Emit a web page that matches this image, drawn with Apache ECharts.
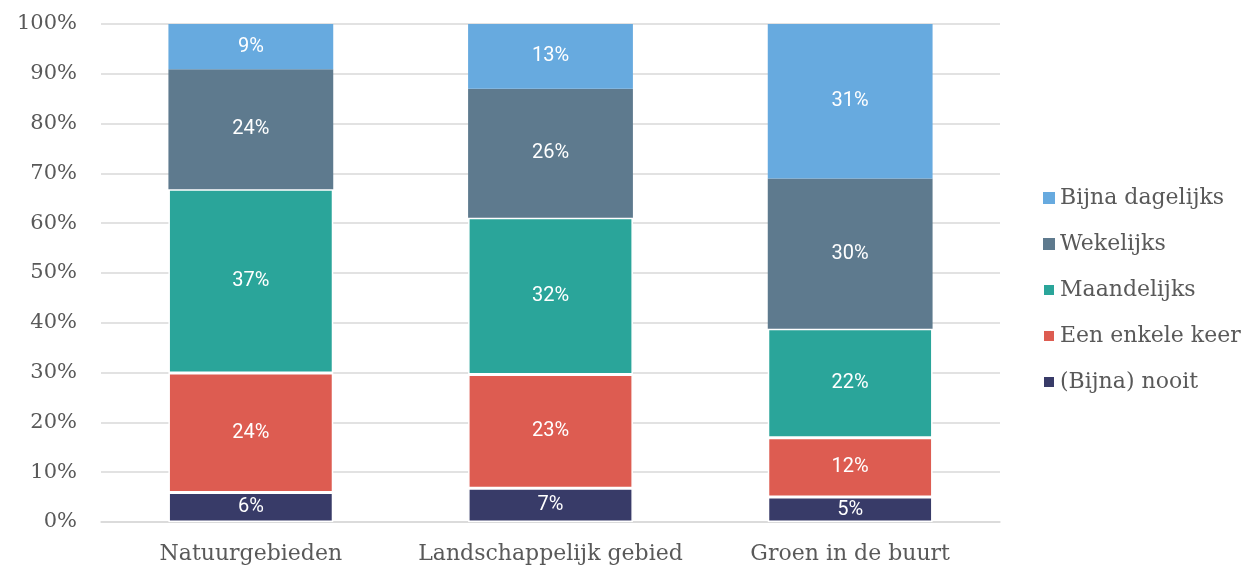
<!DOCTYPE html>
<html>
<head>
<meta charset="utf-8">
<script src="https://cdn.jsdelivr.net/npm/echarts@6/dist/echarts.min.js"></script>
<style>html,body{margin:0;padding:0;background:#fff}#c{width:1248px;height:566px}</style>
</head>
<body>
<div id="c"></div>
<script>
const categories = ['Natuurgebieden', 'Landschappelijk gebied', 'Groen in de buurt'];
const seriesNames = ['(Bijna) nooit', 'Een enkele keer', 'Maandelijks', 'Wekelijks', 'Bijna dagelijks'];
const nooit = [5.9, 6.8, 5.0];
const enkeleKeer = [24.0, 22.8, 11.9];
const maandelijks = [36.9, 31.5, 21.9];
const wekelijks = [24.1, 25.9, 30.2];
const dagelijks = [9.1, 13.0, 31.0];
const yTicks = [0, 10, 20, 30, 40, 50, 60, 70, 80, 90, 100];
const legendOrder = ['Bijna dagelijks', 'Wekelijks', 'Maandelijks', 'Een enkele keer', '(Bijna) nooit'];

const colors = ['#383b68', '#dd5c51', '#2aa59a', '#5e7a8e', '#67aadf'];
const values = [nooit, enkeleKeer, maandelijks, wekelijks, dagelijks];
const serif = 'DejaVu Serif';

const chart = echarts.init(document.getElementById('c'), null, {renderer: 'canvas'});
chart.setOption({
  animation: false,
  color: colors,
  grid: {left: 101, right: 248, top: 24, bottom: 44},
  legend: {
    orient: 'vertical',
    left: 1037,
    top: 181,
    itemWidth: 12,
    itemHeight: 12,
    itemGap: 22,
    icon: 'rect',
    data: legendOrder,
    textStyle: {fontFamily: serif, fontSize: 22, lineHeight: 24, color: '#595959', padding: [0, 0, 0, 0]}
  },
  xAxis: {
    type: 'category',
    data: categories,
    axisTick: {show: false},
    axisLine: {lineStyle: {color: '#d9d9d9', width: 1.5}},
    axisLabel: {fontFamily: serif, fontSize: 22, color: '#595959', margin: 21, interval: 0, hideOverlap: false}
  },
  yAxis: {
    type: 'value',
    min: 0,
    max: 100,
    interval: 10,
    axisLabel: {
      fontFamily: serif, fontSize: 21, color: '#595959', margin: 24,
      formatter: v => yTicks.includes(v) ? v + '%' : ''
    },
    splitLine: {lineStyle: {color: '#d9d9d9', width: 1.5}},
    axisLine: {show: false},
    axisTick: {show: false}
  },
  series: seriesNames.map((name, i) => ({
    name: name,
    type: 'bar',
    stack: 'total',
    barWidth: '55%',
    data: values[i],
    itemStyle: {color: colors[i], borderColor: '#fff', borderWidth: i >= 3 ? 0 : 1.5},
    label: {
      show: true,
      position: 'inside',
      color: '#fff',
      fontFamily: 'Roboto',
      fontSize: 20,
      formatter: p => Math.round(p.value) + '%'
    }
  }))
});
</script>
</body>
</html>
